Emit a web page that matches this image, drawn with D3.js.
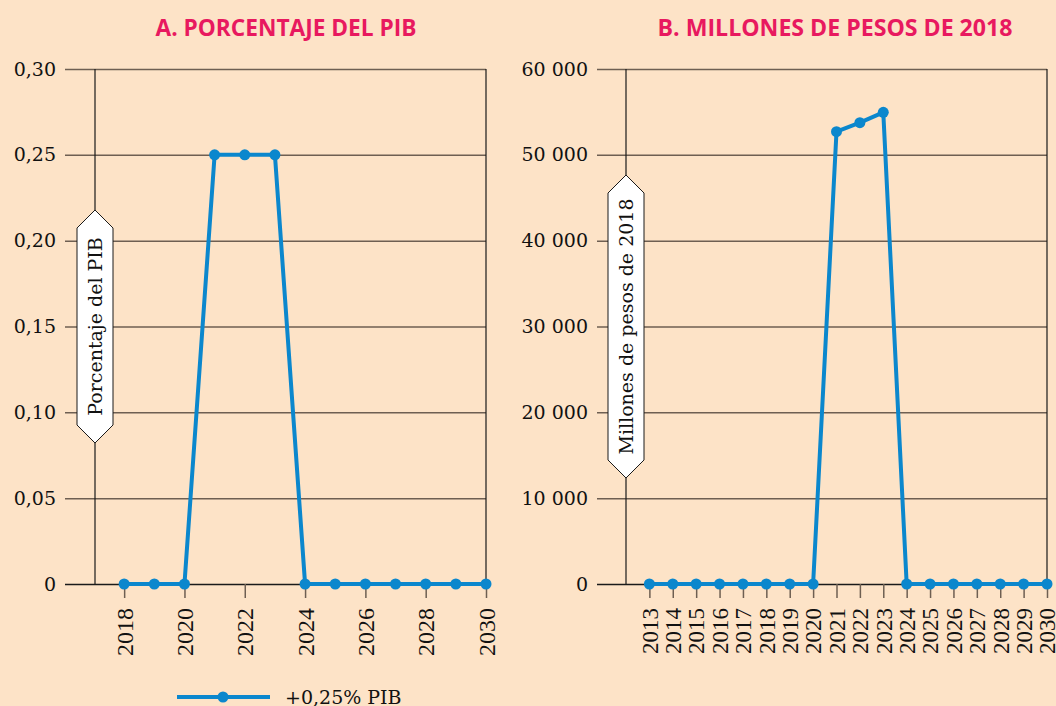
<!DOCTYPE html>
<html>
<head>
<meta charset="utf-8">
<script src="https://cdn.jsdelivr.net/npm/d3@7"></script>
<style>
    body { margin: 0; background: #fde3c7; }
    svg { display: block; }
</style>
</head>
<body>
<script>
const W = 1056, H = 706
const top0 = 69, bottom0 = 584
const blue = "#0b87cd"
const serif = "'DejaVu Serif', serif"

// panel A: porcentaje del PIB
const yearsA = [2018, 2019, 2020, 2021, 2022, 2023, 2024, 2025, 2026, 2027, 2028, 2029, 2030]
const valuesA = [0, 0, 0, 0.25, 0.25, 0.25, 0, 0, 0, 0, 0, 0, 0]
const xTicksA = [2018, 2020, 2022, 2024, 2026, 2028, 2030]
const yTicksA = [0, 0.05, 0.10, 0.15, 0.20, 0.25, 0.30]
const yLabelsA = ["0", "0,05", "0,10", "0,15", "0,20", "0,25", "0,30"]

// panel B: millones de pesos de 2018
const yearsB = [2013, 2014, 2015, 2016, 2017, 2018, 2019, 2020, 2021, 2022, 2023, 2024, 2025, 2026, 2027, 2028, 2029, 2030]
const valuesB = [0, 0, 0, 0, 0, 0, 0, 0, 52700, 53750, 54950, 0, 0, 0, 0, 0, 0, 0]
const yTicksB = [0, 10000, 20000, 30000, 40000, 50000, 60000]
const yLabelsB = ["0", "10 000", "20 000", "30 000", "40 000", "50 000", "60 000"]

const svg = d3.select("body").append("svg")
    .attr("width", W)
    .attr("height", H)

svg.append("rect")
    .attr("width", W)
    .attr("height", H)
    .attr("fill", "#fde3c7")

function drawPanel(p) {
    const x = d3.scaleLinear().domain(p.xDomain).range([p.left, p.right])
    const y = d3.scaleLinear().domain([0, p.yMax]).range([bottom0, top0])
    const g = svg.append("g")

    // title
    g.append("text")
        .attr("x", p.titleX)
        .attr("y", 36)
        .attr("text-anchor", "middle")
        .attr("textLength", p.titleW)
        .attr("lengthAdjust", "spacingAndGlyphs")
        .style("font-family", "'Open Sans', sans-serif")
        .style("font-weight", "bold")
        .style("font-size", "24px")
        .style("fill", "#e8195f")
        .text(p.title)

    // grid + y labels
    const yAxis = g.append("g")
        .attr("transform", "translate(" + p.right + ",0)")
        .call(d3.axisLeft(y)
            .tickValues(p.yTicks)
            .tickFormat((d, i) => p.yLabels[i])
            .tickSize(p.right - p.gridLeft)
            .tickPadding(9))
    yAxis.select(".domain").remove()
    yAxis.selectAll(".tick line")
        .attr("stroke", d => d === 0 ? "#1a1a1a" : "#6e5f52")
        .attr("stroke-width", 1.5)
    yAxis.selectAll(".tick text")
        .style("font-family", serif)
        .style("font-size", "19px")
        .style("fill", "#111")

    // x axis ticks and labels
    const xAxis = g.append("g")
        .attr("transform", "translate(0," + bottom0 + ")")
        .call(d3.axisBottom(x)
            .tickValues(p.xTicks)
            .tickFormat(d3.format("d"))
            .tickSize(14))
    xAxis.select(".domain").remove()
    xAxis.selectAll(".tick line")
        .attr("stroke", "#6e5f52")
        .attr("stroke-width", 1.5)
    xAxis.selectAll(".tick text")
        .attr("transform", "rotate(-90)")
        .attr("text-anchor", "end")
        .attr("x", -24)
        .attr("y", 0)
        .attr("dy", "0.34em")
        .style("font-family", "'Liberation Serif', serif")
        .style("font-size", p.xFont)
        .style("fill", "#111")

    // frame verticals
    g.selectAll("line.frame")
        .data([p.left + p.axisShift, p.right])
        .join("line")
        .attr("class", "frame")
        .attr("x1", d => d).attr("x2", d => d)
        .attr("y1", top0).attr("y2", bottom0)
        .attr("stroke", "#1a1a1a")
        .attr("stroke-width", 1.2)

    // series
    const pts = p.years.map((yr, i) => ({ year: yr, value: p.values[i] }))
    const line = d3.line()
        .x(d => x(d.year))
        .y(d => y(d.value))
    g.append("path")
        .datum(pts)
        .attr("d", line)
        .attr("fill", "none")
        .attr("stroke", blue)
        .attr("stroke-width", 4)
        .attr("stroke-linejoin", "round")
    g.selectAll("circle")
        .data(pts)
        .join("circle")
        .attr("cx", d => x(d.year))
        .attr("cy", d => y(d.value))
        .attr("r", 5.5)
        .attr("fill", blue)

    // y axis title in white hexagon
    const cx = p.left + p.axisShift, cy = (top0 + bottom0) / 2
    const half = p.boxH / 2, tip = 18, bw = 18
    g.append("path")
        .attr("d", d3.line()([
            [cx, cy - half - tip], [cx + bw, cy - half], [cx + bw, cy + half],
            [cx, cy + half + tip], [cx - bw, cy + half], [cx - bw, cy - half]
        ]) + "Z")
        .attr("fill", "#fff")
        .attr("stroke", "#1a1a1a")
        .attr("stroke-width", 1)
    g.append("text")
        .attr("transform", "translate(" + cx + "," + cy + ") rotate(-90)")
        .attr("text-anchor", "middle")
        .attr("dy", "0.35em")
        .style("font-family", serif)
        .style("font-size", "19px")
        .style("fill", "#111")
        .text(p.yTitle)
}

drawPanel({
    title: "A. PORCENTAJE DEL PIB", titleX: 286, titleW: 261,
    xDomain: [2017, 2030], left: 94, right: 486, axisShift: 1, gridLeft: 65,
    yMax: 0.30, yTicks: yTicksA, yLabels: yLabelsA,
    xTicks: xTicksA, years: yearsA, values: valuesA, xFont: "24px",
    yTitle: "Porcentaje del PIB", boxH: 197
})

drawPanel({
    title: "B. MILLONES DE PESOS DE 2018", titleX: 835, titleW: 355,
    xDomain: [2012, 2030], left: 626, right: 1047, axisShift: 0, gridLeft: 597,
    yMax: 60000, yTicks: yTicksB, yLabels: yLabelsB,
    xTicks: yearsB, years: yearsB, values: valuesB, xFont: "23px",
    yTitle: "Millones de pesos de 2018", boxH: 267
})

// legend
const legend = svg.append("g").attr("transform", "translate(0,697)")
legend.append("line")
    .attr("x1", 177).attr("x2", 270)
    .attr("stroke", blue).attr("stroke-width", 4)
legend.append("circle")
    .attr("cx", 223).attr("r", 5.5).attr("fill", blue)
legend.append("text")
    .attr("x", 285).attr("dy", "0.35em")
    .style("font-family", serif)
    .style("font-size", "19px")
    .style("fill", "#111")
    .text("+0,25% PIB")
</script>
</body>
</html>
